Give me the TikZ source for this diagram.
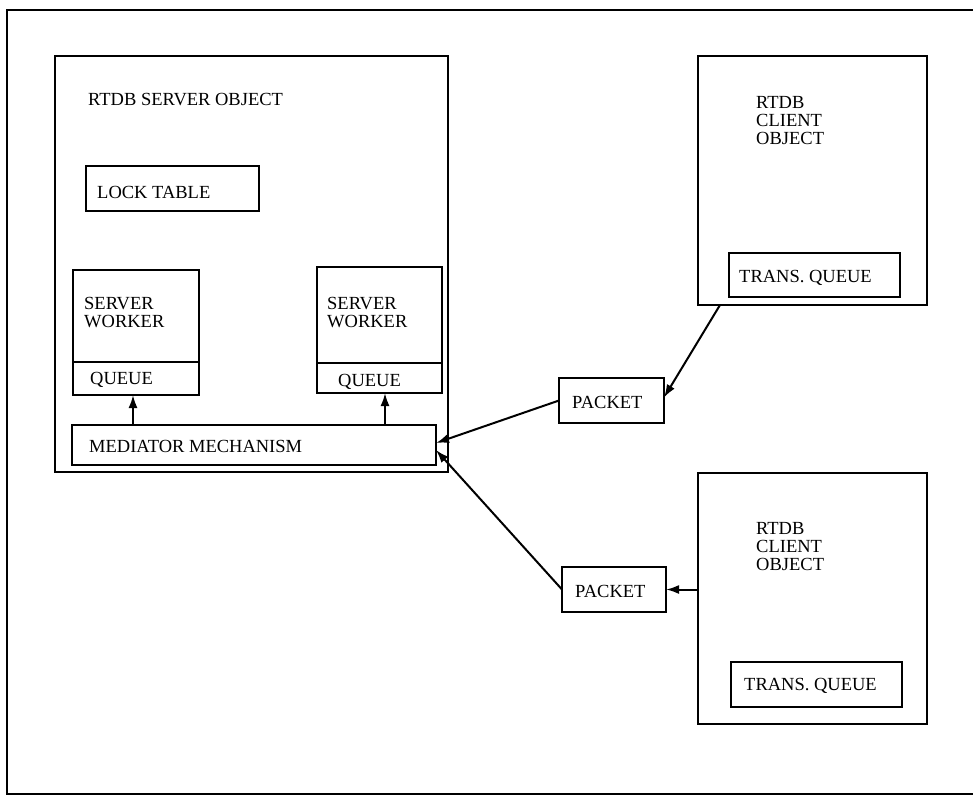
\documentclass[tikz,border=0pt]{standalone}
\usepackage{fontspec}
\setmainfont{Liberation Serif}
\usepackage{tikz}
\usetikzlibrary{arrows.meta,positioning,calc}
\newcommand{\lblfont}{\fontsize{18.5}{18}\selectfont}
\tikzset{
  box/.style={draw,line width=2.2pt,inner sep=0pt,outer sep=0pt,anchor=north west},
  lbl/.style={anchor=north west,inner sep=0pt,align=left,font=\lblfont},
  arr/.style={-{Latex[length=13pt,width=9pt]},line width=2pt},
}
\begin{document}
\begin{tikzpicture}[x=1pt,y=-1pt]
\useasboundingbox (0,0) rectangle (973,796);
\draw[line width=2pt] (980,10) -- (7,10) -- (7,794) -- (980,794);
\node[box,minimum width=393pt,minimum height=416pt] (server) at (55,56) {};
\node[lbl] (stitle) at (88,93) {RTDB SERVER OBJECT};
\node[box,minimum width=173pt,minimum height=45pt] (lock) at (86,166) {};
\node[lbl] at (97,186) {LOCK TABLE};
\node[box,minimum width=126pt,minimum height=92pt] (w1) at (73,270) {};
\node[box,minimum width=126pt,minimum height=33pt] (q1) at (w1.south west) {};
\node[lbl] at (84,297) {SERVER\\WORKER};
\node[lbl] at (90,372) {QUEUE};
\node[box,minimum width=125pt,minimum height=96pt] (w2) at (317,267) {};
\node[box,minimum width=125pt,minimum height=30pt] (q2) at (w2.south west) {};
\node[lbl] at (327,297) {SERVER\\WORKER};
\node[lbl] at (338,374) {QUEUE};
\node[box,minimum width=364pt,minimum height=40pt] (med) at (72,425) {};
\node[lbl] at (89,440) {MEDIATOR MECHANISM};
\node[box,minimum width=105pt,minimum height=45pt] (pk1) at (559,378) {};
\node[lbl] at (572,396) {PACKET};
\node[box,minimum width=104pt,minimum height=45pt] (pk2) at (562,567) {};
\node[lbl] at (575,585) {PACKET};
\node[box,minimum width=229pt,minimum height=249pt] (c1) at (698,56) {};
\node[lbl] at (756,96) {RTDB\\CLIENT\\OBJECT};
\node[box,minimum width=171pt,minimum height=44pt] (tq1) at (729,253) {};
\node[lbl] at (739,270) {TRANS. QUEUE};
\node[box,minimum width=229pt,minimum height=251pt] (c2) at (698,473) {};
\node[lbl] at (756,522) {RTDB\\CLIENT\\OBJECT};
\node[box,minimum width=171pt,minimum height=45pt] (tq2) at (731,662) {};
\node[lbl] at (744,678) {TRANS. QUEUE};
\draw[arr] ($(med.north west)+(61,0)$) -- ($(q1.south west)+(60,0)$);
\draw[arr] ($(med.north west)+(313,0)$) -- ($(q2.south west)+(68,0)$);
\draw[arr] ($(c1.south west)+(22,0)$) -- ([yshift=3pt]pk1.east);
\draw[arr] (pk1.west) -- ([yshift=2pt]med.east);
\draw[arr] (pk2.east -| c2.west) -- (pk2.east);
\draw[arr] (pk2.west) -- ([yshift=-5pt]med.east);
\end{tikzpicture}
\end{document}
